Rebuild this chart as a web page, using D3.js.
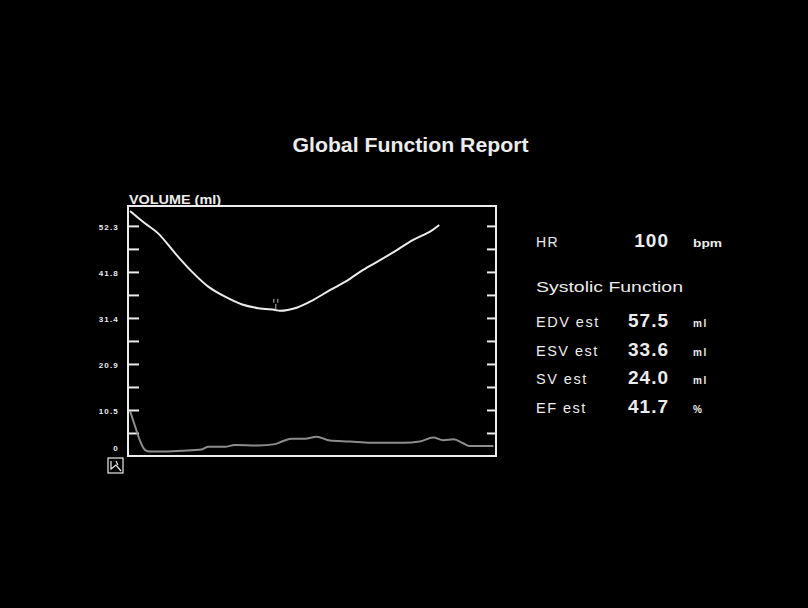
<!DOCTYPE html>
<html>
<head>
<meta charset="utf-8">
<script src="https://cdn.jsdelivr.net/npm/d3@7"></script>
<style>
	html, body { margin: 0; padding: 0; background: #000; }
	svg { display: block; }
</style>
</head>
<body>
<svg width="808" height="608"></svg>
<script>
// Volume curve over one cycle (time in ms, volume in ml)
var volTime = [4, 33, 59, 92, 125, 157, 190, 222, 255, 288, 297, 330, 363, 395, 428, 460, 493, 526, 558, 591, 609];
var volValue = [55.7, 52.9, 50.6, 46.1, 41.9, 38.5, 36.2, 34.5, 33.6, 33.2, 33.0, 33.7, 35.5, 37.7, 39.8, 42.3, 44.5, 46.8, 49.1, 51.0, 52.5];

// Lower grey trace
var traceTime = [4, 14, 23, 33, 43, 66, 105, 144, 157, 190, 209, 255, 288, 301, 320, 346, 369, 395, 434, 474, 539, 571, 597, 617, 637, 656, 667, 715];
var traceValue = [10.2, 6.7, 3.6, 1.4, 1.0, 1.0, 1.2, 1.5, 2.1, 2.1, 2.5, 2.4, 2.7, 3.3, 3.9, 3.9, 4.4, 3.5, 3.3, 3.0, 3.0, 3.3, 4.2, 3.6, 3.8, 2.9, 2.3, 2.3];

// Axis ticks (every half step of 10.46 ml), labels on the full steps
var tickValues = [5.23, 10.46, 15.69, 20.92, 26.15, 31.38, 36.61, 41.84, 47.07, 52.3];
var labelValues = [0, 10.46, 20.92, 31.38, 41.84, 52.3];
var labelTexts = ["0", "10.5", "20.9", "31.4", "41.8", "52.3"];

// Report panel
var statNames = ["EDV est", "ESV est", "SV est", "EF est"];
var statValues = ["57.5", "33.6", "24.0", "41.7"];
var statUnits = ["ml", "ml", "ml", "%"];
var heartRate = "100";

var FG = "#ececec";
var FONT = "'Liberation Sans', Arial, sans-serif";

var svg = d3.select("svg");

var x = d3.scaleLinear().domain([0, 720]).range([128, 496]);
var y = d3.scaleLinear().domain([0, 56.82]).range([456, 206]);

// Title
svg.append("text")
	.attr("x", 410.5)
	.attr("y", 152)
	.attr("text-anchor", "middle")
	.attr("font-family", FONT)
	.attr("font-weight", "bold")
	.attr("font-size", 20)
	.attr("textLength", 236)
	.attr("lengthAdjust", "spacingAndGlyphs")
	.attr("fill", FG)
	.text("Global Function Report");

// Frame
svg.append("rect")
	.attr("x", x(0))
	.attr("y", y.range()[1])
	.attr("width", x(720) - x(0))
	.attr("height", y(0) - y.range()[1])
	.attr("fill", "none")
	.attr("stroke", FG)
	.attr("stroke-width", 2);

svg.append("text")
	.attr("x", 129)
	.attr("y", 204)
	.attr("font-family", FONT)
	.attr("font-weight", "bold")
	.attr("font-size", 12.5)
	.attr("textLength", 92)
	.attr("lengthAdjust", "spacingAndGlyphs")
	.attr("fill", FG)
	.text("VOLUME (ml)");

// Left ticks, pointing inward
var leftAxis = d3.axisRight(y)
	.tickValues(tickValues)
	.tickSize(11)
	.tickFormat("");

svg.append("g")
	.attr("transform", "translate(" + x(0) + ",0)")
	.call(leftAxis)
	.call(function(g) { g.select(".domain").remove(); })
	.selectAll("line")
		.attr("stroke", FG)
		.attr("stroke-width", 2);

// Right ticks, pointing inward
var rightAxis = d3.axisLeft(y)
	.tickValues(tickValues)
	.tickSize(9)
	.tickFormat("");

svg.append("g")
	.attr("transform", "translate(" + x(720) + ",0)")
	.call(rightAxis)
	.call(function(g) { g.select(".domain").remove(); })
	.selectAll("line")
		.attr("stroke", FG)
		.attr("stroke-width", 2);

// Tick labels
svg.append("g")
	.selectAll("text")
	.data(labelValues)
	.enter().append("text")
		.attr("x", 119)
		.attr("y", function(d, i) { return i == 0 ? y(d) - 5 : y(d) + 4; })
		.attr("text-anchor", "end")
		.attr("font-family", FONT)
		.attr("font-weight", "bold")
		.attr("font-size", 8)
		.attr("letter-spacing", 1.2)
		.attr("fill", FG)
		.text(function(d, i) { return labelTexts[i]; });

// Lower grey trace
var traceLine = d3.line()
	.x(function(d, i) { return x(traceTime[i]); })
	.y(function(d) { return y(d); })
	.curve(d3.curveMonotoneX);

svg.append("path")
	.datum(traceValue)
	.attr("d", traceLine)
	.attr("fill", "none")
	.attr("stroke", "#8c8c8c")
	.attr("stroke-width", 2);

// Volume curve
var volLine = d3.line()
	.x(function(d, i) { return x(volTime[i]); })
	.y(function(d) { return y(d); })
	.curve(d3.curveCatmullRom);

svg.append("path")
	.datum(volValue)
	.attr("d", volLine)
	.attr("fill", "none")
	.attr("stroke", FG)
	.attr("stroke-width", 2);

// End-systole marker at the minimum
var minIdx = d3.minIndex(volValue);
var mx = x(volTime[minIdx]) - 4, my = y(volValue[minIdx]);
var marker = svg.append("g").attr("stroke", "#bbb").attr("stroke-width", 1).attr("fill", "none");
marker.append("line").attr("x1", mx).attr("x2", mx).attr("y1", my - 1).attr("y2", my - 7);
marker.append("path").attr("d", "M" + (mx - 2) + "," + (my - 8) + "V" + (my - 12) + "M" + (mx + 2) + "," + (my - 8) + "V" + (my - 12));

// Small icon below the axis
var icon = svg.append("g").attr("stroke", FG).attr("fill", "none").attr("stroke-width", 1.2);
icon.append("rect").attr("x", 108).attr("y", 458).attr("width", 15).attr("height", 15);
icon.append("path").attr("d", "M111,461 L111,469 L116,465 L121,471 M116,461 L118,465");

// Report panel
var panel = svg.append("g")
	.attr("font-family", FONT)
	.attr("fill", FG);

panel.append("text")
	.attr("x", 536).attr("y", 246.5)
	.attr("font-size", 14)
	.attr("letter-spacing", 1.5)
	.text("HR");

panel.append("text")
	.attr("x", 669).attr("y", 246.5)
	.attr("text-anchor", "end")
	.attr("font-size", 19)
	.attr("font-weight", "bold")
	.attr("letter-spacing", 1)
	.text(heartRate);

panel.append("text")
	.attr("x", 693).attr("y", 246.5)
	.attr("font-size", 10)
	.attr("font-weight", "bold")
	.attr("textLength", 29)
	.attr("lengthAdjust", "spacingAndGlyphs")
	.text("bpm");

panel.append("text")
	.attr("x", 536).attr("y", 292)
	.attr("font-size", 15)
	.attr("textLength", 147)
	.attr("lengthAdjust", "spacingAndGlyphs")
	.text("Systolic Function");

var rows = panel.selectAll("g.row")
	.data(statNames)
	.enter().append("g")
		.attr("class", "row")
		.attr("transform", function(d, i) { return "translate(0," + (327.3 + i * 28.5) + ")"; });

rows.append("text")
	.attr("x", 536)
	.attr("font-size", 14.5)
	.attr("letter-spacing", 1.5)
	.text(function(d) { return d; });

rows.append("text")
	.attr("x", 669)
	.attr("text-anchor", "end")
	.attr("font-size", 19)
	.attr("font-weight", "bold")
	.attr("letter-spacing", 1)
	.text(function(d, i) { return statValues[i]; });

rows.append("text")
	.attr("x", 693)
	.attr("font-size", 10)
	.attr("font-weight", "bold")
	.attr("letter-spacing", 1.5)
	.text(function(d, i) { return statUnits[i]; });
</script>
</body>
</html>
